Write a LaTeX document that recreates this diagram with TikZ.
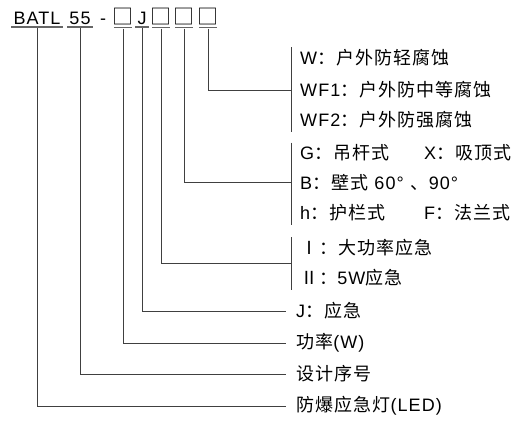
\documentclass[tikz,border=0pt]{standalone}
\usepackage{fontspec}
\setmainfont{Liberation Sans}[LetterSpace=6]
\newfontfamily\cjk{Noto Sans CJK SC}[LetterSpace=6]

\begin{document}
\begin{tikzpicture}[x=1pt, y=-1pt, font=\fontsize{18pt}{22pt}\selectfont]

\useasboundingbox (0,0) rectangle (530,431);

\tikzset{
  codepart/.style={inner xsep=2pt, inner ysep=0pt, anchor=base},
  boxpart/.style={codepart, inner xsep=-2pt, font=\fontsize{21pt}{24pt}\selectfont\cjk},
  uline/.style={draw=black!60, line width=1.8pt},
  conn/.style={draw=black!75, line width=0.8pt},
  desc/.style={anchor=west, inner sep=0pt}
}

% 1. Typenbezeichnung oben
\node[codepart] (batl) at (37,24) {BATL};
\node[codepart] (ser) at (80,24) {55};
\node[codepart] (dash) at (103,24) {-};
\node[boxpart] (pw) at (123,24.5) {□};
\node[codepart] (emg) at (142,24) {J};
\node[boxpart] (etype) at (161,24.5) {□};
\node[boxpart] (mount) at (184,24.5) {□};
\node[boxpart] (anticor) at (208,24.5) {□};

% 2. Unterstriche
\foreach \n in {batl,ser,pw,emg,etype,mount,anticor}
  \draw[uline] ([yshift=-3pt]\n.base west) -- ([yshift=-3pt]\n.base east);

% 3. Gruppe Korrosionsschutz
\node[desc] (w) at (300,58) {W{\cjk：户外防轻腐蚀}};
\node[desc] (wf1) at (300,90) {WF1{\cjk：户外防中等腐蚀}};
\node[desc] (wf2) at (300,120) {WF2{\cjk：户外防强腐蚀}};
\coordinate (grp1) at (291,90);
\draw[conn] ([xshift=-9pt,yshift=2pt]w.north west) -- ([xshift=-9pt,yshift=-3pt]wf2.south west);

% 4. Gruppe Montageart
\node[desc] (g) at (300,153) {G{\cjk：吊杆式}};
\node[desc] (x) at (424,153) {X{\cjk：吸顶式}};
\node[desc] (b) at (300,183) {B{\cjk：壁式} 60°\hspace{7pt}{\cjk 、}90°};
\node[desc] (h) at (300,213) {h{\cjk：护栏式}};
\node[desc] (f) at (424,213) {F{\cjk：法兰式}};
\coordinate (grp2) at (291,182);
\draw[conn] ([xshift=-9pt,yshift=2pt]g.north west) -- ([xshift=-9pt,yshift=-3pt]h.south west);

% 5. Gruppe Notlichttyp
\node[desc] (one) at (300,248) {\cjk Ⅰ：大功率应急};
\node[desc] (two) at (300,278) {{\cjk Ⅱ：}5W{\cjk 应急}};
\coordinate (grp3) at (291,263);
\draw[conn] ([xshift=-9pt,yshift=2pt]one.north west) -- ([xshift=-9pt,yshift=-3pt]two.south west);

% 6. Einzelne Beschreibungen
\node[desc] (jdesc) at (296,311) {J{\cjk：应急}};
\node[desc] (pwr) at (296,343) {{\cjk 功率}(W)};
\node[desc] (seq) at (296,374) {\cjk 设计序号};
\node[desc] (led) at (296,406) {{\cjk 防爆应急灯}(LED)};

% 7. Verbindungslinien
\draw[conn] ([yshift=-4pt]batl.base) |- ([xshift=-10pt]led.west);
\draw[conn] ([yshift=-4pt]ser.base) |- ([xshift=-10pt]seq.west);
\draw[conn] ([yshift=-4pt]pw.base) |- ([xshift=-10pt]pwr.west);
\draw[conn] ([yshift=-4pt]emg.base) |- ([xshift=-10pt]jdesc.west);
\draw[conn] ([yshift=-4pt]etype.base) |- (grp3);
\draw[conn] ([yshift=-4pt]mount.base) |- (grp2);
\draw[conn] ([yshift=-4pt]anticor.base) |- (grp1);

\end{tikzpicture}
\end{document}
